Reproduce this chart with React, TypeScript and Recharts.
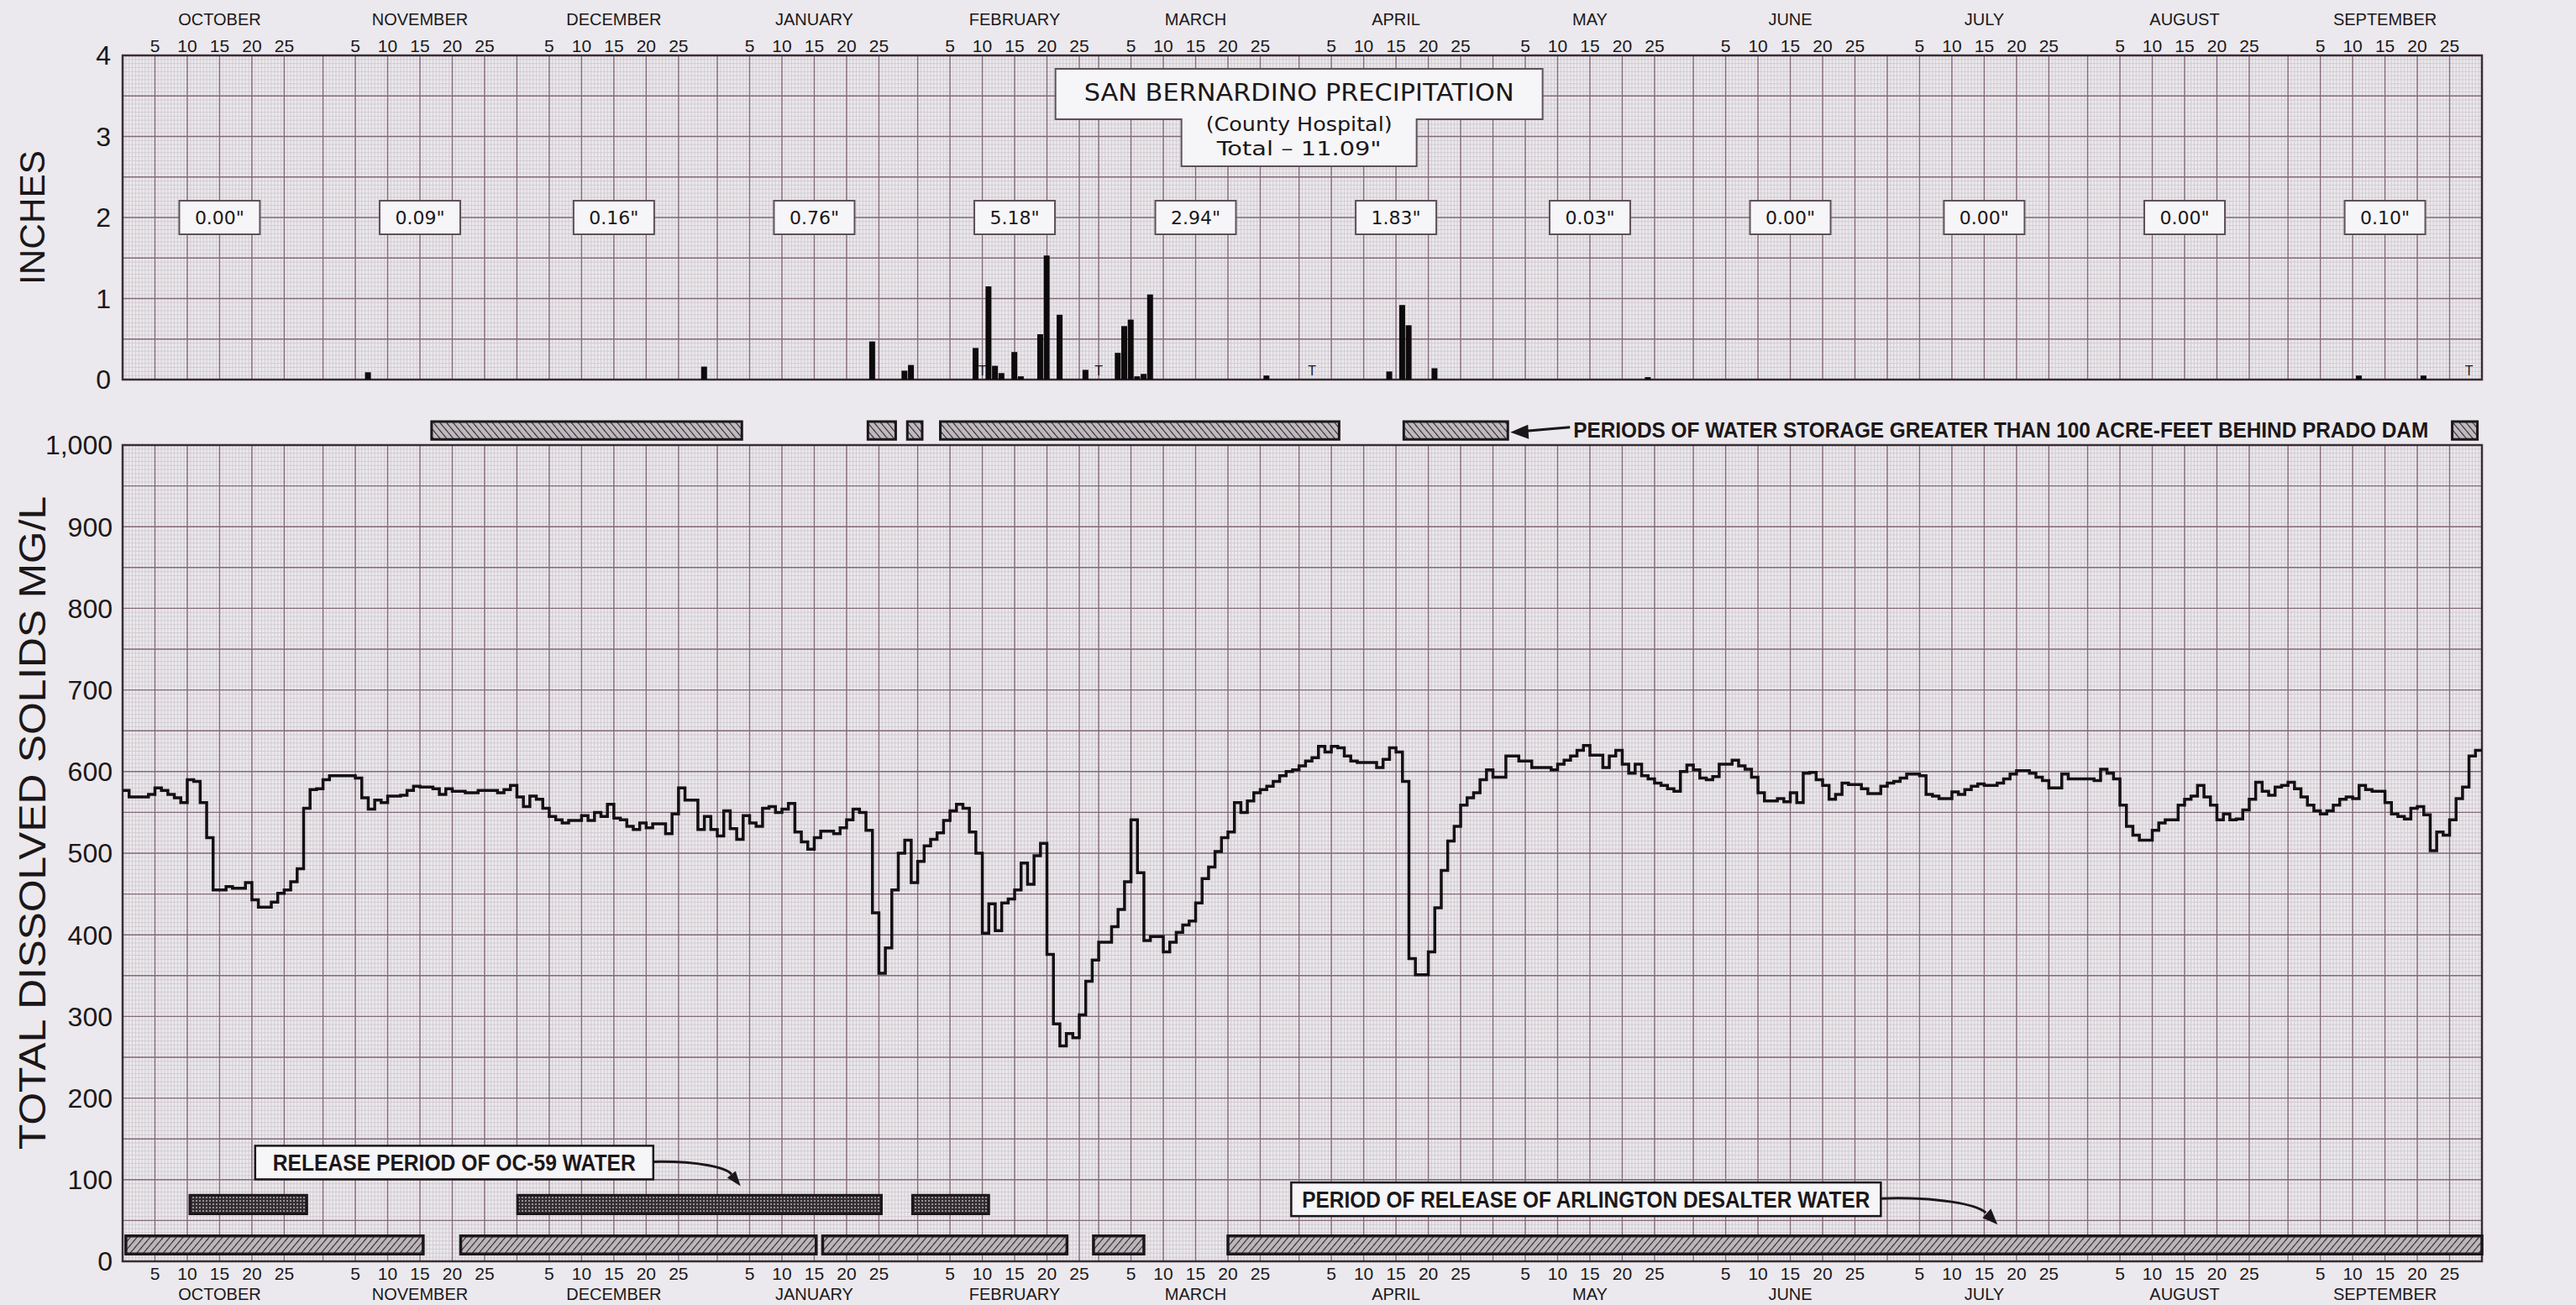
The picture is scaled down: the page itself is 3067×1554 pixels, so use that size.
import React from 'react'
import {
  ComposedChart, Bar, Line, XAxis, YAxis, CartesianGrid,
  ReferenceArea, ReferenceDot,
} from 'recharts'

// water year, day index 0 = October 1
const MONTHS = ['OCTOBER', 'NOVEMBER', 'DECEMBER', 'JANUARY', 'FEBRUARY', 'MARCH', 'APRIL', 'MAY', 'JUNE', 'JULY', 'AUGUST', 'SEPTEMBER']
const MONTH_DAYS = [31, 30, 31, 31, 28, 31, 30, 31, 30, 31, 31, 30]
const DAY_MARKS = [5, 10, 15, 20, 25]
const MONTH_TOTALS = ['0.00"', '0.09"', '0.16"', '0.76"', '5.18"', '2.94"', '1.83"', '0.03"', '0.00"', '0.00"', '0.00"', '0.10"']
const INCH_TICKS = [0, 1, 2, 3, 4]
const TDS_TICKS = [0, 100, 200, 300, 400, 500, 600, 700, 800, 900, 1000]

// San Bernardino daily precipitation (inches)
const RAIN_DAYS = [38, 90, 116, 121, 122, 132, 134, 135, 136, 138, 139, 142, 143, 145, 149, 154, 155, 156, 157, 158, 159, 177, 196, 198, 199, 203, 236, 346, 356]
const RAIN_INCHES = [0.09, 0.16, 0.47, 0.11, 0.18, 0.39, 1.15, 0.17, 0.08, 0.34, 0.04, 0.56, 1.53, 0.80, 0.12, 0.33, 0.66, 0.74, 0.04, 0.07, 1.05, 0.05, 0.10, 0.92, 0.67, 0.14, 0.03, 0.05, 0.05]
const TRACE_DAYS = [133, 151, 184, 363]

// total dissolved solids, mg/L, one value per day
const TDS_OCT = [577, 569, 569, 569, 572, 580, 577, 572, 568, 562, 590, 588, 562, 519, 455, 455, 459, 457, 457, 464, 443, 434, 434, 440, 451, 455, 465, 481, 555, 578, 579]
const TDS_NOV = [590, 595, 595, 595, 595, 592, 568, 554, 565, 562, 570, 570, 571, 577, 582, 581, 581, 579, 572, 579, 576, 576, 574, 574, 577, 577, 577, 574, 578, 583]
const TDS_DEC = [569, 557, 570, 566, 555, 545, 541, 537, 540, 540, 546, 540, 550, 545, 560, 543, 541, 533, 529, 537, 531, 536, 536, 524, 548, 580, 565, 565, 529, 545, 529]
const TDS_JAN = [521, 552, 530, 517, 546, 537, 533, 555, 557, 550, 554, 561, 526, 514, 505, 519, 527, 527, 524, 531, 541, 554, 550, 528, 427, 353, 384, 455, 500, 516, 464]
const TDS_FEB = [490, 509, 517, 525, 540, 552, 560, 555, 526, 500, 402, 438, 405, 439, 444, 455, 488, 462, 497, 512, 376, 291, 264, 279, 274, 302, 343, 369]
const TDS_MAR = [391, 391, 410, 431, 465, 541, 476, 393, 398, 398, 379, 391, 403, 412, 417, 439, 469, 483, 502, 519, 526, 562, 550, 564, 574, 578, 582, 588, 595, 600, 602]
const TDS_APR = [607, 613, 617, 631, 624, 631, 629, 619, 613, 611, 611, 611, 605, 615, 629, 624, 588, 371, 351, 351, 379, 433, 479, 515, 533, 559, 568, 574, 590, 602]
const TDS_MAY = [593, 593, 619, 619, 613, 613, 605, 605, 605, 602, 609, 614, 619, 626, 632, 620, 620, 605, 619, 626, 609, 598, 609, 595, 591, 586, 583, 579, 576, 600, 608]
const TDS_JUN = [602, 592, 590, 594, 609, 609, 614, 607, 603, 593, 574, 564, 564, 567, 563, 574, 562, 598, 599, 590, 583, 566, 572, 586, 584, 584, 579, 573, 573, 582]
const TDS_JUL = [586, 588, 592, 597, 597, 595, 572, 570, 567, 567, 575, 572, 578, 582, 585, 583, 583, 586, 591, 597, 601, 601, 598, 593, 589, 580, 580, 597, 591, 591, 591]
const TDS_AUG = [591, 589, 603, 598, 591, 559, 533, 522, 516, 516, 528, 537, 541, 541, 559, 566, 570, 583, 569, 559, 541, 548, 541, 542, 553, 566, 587, 576, 571, 581, 583]
const TDS_SEP = [587, 579, 569, 559, 552, 548, 552, 559, 566, 569, 567, 583, 578, 576, 576, 562, 548, 545, 542, 555, 557, 547, 503, 526, 522, 541, 567, 581, 619, 626]

// periods (day index start / end)
const STORAGE_START = [47.8, 115.3, 121.4, 126.5, 198.2, 360.4]
const STORAGE_END = [95.8, 119.6, 123.7, 188.2, 214.3, 364.3]
const OC59_START = [10.4, 61.1, 122.2]
const OC59_END = [28.5, 117.4, 134.0]
const DESALTER_START = [0.5, 52.3, 108.3, 150.2, 171.0]
const DESALTER_END = [46.5, 107.3, 146.1, 158.0, 365]

const PAPER = '#ebe9ed'
const GRID_FINE = '#d3ccd1'
const GRID_MAJOR = '#84697a'
const INK = '#1b1719'
const BOX_FILL = '#f6f5f7'
const FONT = "'Liberation Sans', Arial, sans-serif"
const NARROW = "'Liberation Sans Narrow', 'Liberation Sans', Arial, sans-serif"
const CAD = "'DejaVu Sans', 'Liberation Sans', sans-serif"

const W = 3067
const LEFT_W = 146
const RIGHT_W = 112

const monthStarts = MONTH_DAYS.map((_, i) => MONTH_DAYS.slice(0, i).reduce((a, b) => a + b, 0))
const dayTicks = monthStarts.flatMap(s => DAY_MARKS.map(k => s + k))
const majorX = [...monthStarts, 365, ...dayTicks].sort((a, b) => a - b)
const fineX = Array.from({ length: 731 }, (_, i) => i / 2)
const majorInch = Array.from({ length: 9 }, (_, i) => i * 0.5)
const fineInch = Array.from({ length: 81 }, (_, i) => i * 0.05)
const majorTds = Array.from({ length: 21 }, (_, i) => i * 50)
const fineTds = Array.from({ length: 201 }, (_, i) => i * 5)

const tdsAll = [...TDS_OCT, ...TDS_NOV, ...TDS_DEC, ...TDS_JAN, ...TDS_FEB, ...TDS_MAR, ...TDS_APR, ...TDS_MAY, ...TDS_JUN, ...TDS_JUL, ...TDS_AUG, ...TDS_SEP]
const tdsData = [...tdsAll.map((v, i) => ({ day: i, tds: v })), { day: 365, tds: tdsAll[tdsAll.length - 1] }]
const rainData = tdsAll.map((_, d) => {
  const k = RAIN_DAYS.indexOf(d)
  return { day: d, rain: k >= 0 ? RAIN_INCHES[k] : 0 }
})

function DayTick({ x, y, payload, side }: any) {
  const v = payload.value as number
  const m = monthStarts.findIndex((s, i) => v > s && v <= s + MONTH_DAYS[i])
  const dom = v - monthStarts[m]
  const top = side === 'top'
  return (
    <g>
      <text x={x} y={top ? y - 4 : y + 22} textAnchor="middle" fontSize={21} fontFamily={NARROW} fill={INK}>{dom}</text>
      {dom === 15 && (
        <text x={x} y={top ? y - 36 : y + 46} textAnchor="middle" fontSize={20} fontFamily={NARROW} fill={INK}>{MONTHS[m]}</text>
      )}
    </g>
  )
}

const sideLabel = (text: string, len: number, size: number, dy: number) => (props: any) => {
  const vb = props.viewBox
  const cx = vb.x + 38
  const cy = vb.y + vb.height / 2 + dy
  return (
    <text x={cx} y={cy} transform={`rotate(-90, ${cx}, ${cy})`} textAnchor="middle" dominantBaseline="central"
      fontSize={size} fontFamily={FONT} fill={INK} textLength={len} lengthAdjust="spacingAndGlyphs">{text}</text>
  )
}

function TotalBox({ cx, cy, text }: any) {
  return (
    <g>
      <rect x={cx - 48} y={cy - 20} width={96} height={40} fill={BOX_FILL} stroke="#5d5058" strokeWidth={2} />
      <text x={cx} y={cy + 8} textAnchor="middle" fontSize={22} fontFamily={CAD} fill={INK}>{text}</text>
    </g>
  )
}

function TitleBox({ cx, cy }: any) {
  const d = `M${cx - 290},${cy + 16} H${cx + 290} V${cy + 76} H${cx + 140} V${cy + 132} H${cx - 140} V${cy + 76} H${cx - 290} Z`
  return (
    <g>
      <path d={d} fill={BOX_FILL} stroke="#5d5058" strokeWidth={2} />
      <text x={cx} y={cy + 54} textAnchor="middle" fontSize={28} fontFamily={CAD} fill={INK} textLength={512} lengthAdjust="spacingAndGlyphs">SAN BERNARDINO PRECIPITATION</text>
      <text x={cx} y={cy + 90} textAnchor="middle" fontSize={23} fontFamily={CAD} fill={INK} textLength={222} lengthAdjust="spacingAndGlyphs">(County Hospital)</text>
      <text x={cx} y={cy + 119} textAnchor="middle" fontSize={23} fontFamily={CAD} fill={INK} textLength={196} lengthAdjust="spacingAndGlyphs">Total – 11.09"</text>
    </g>
  )
}

function TraceMark({ cx, cy }: any) {
  return <text x={cx} y={cy + 5} textAnchor="middle" fontSize={16} fontFamily={FONT} fill={INK}>T</text>
}

function StorageNote({ cx, cy }: any) {
  return (
    <g>
      <line x1={cx + 74} y1={cy - 4} x2={cx + 16} y2={cy + 1} stroke={INK} strokeWidth={3} />
      <polygon points={`${cx + 3},${cy + 2} ${cx + 24},${cy - 7} ${cx + 25},${cy + 10}`} fill={INK} />
      <text x={cx + 78} y={cy + 8} fontSize={25} fontWeight="bold" fontFamily={NARROW} fill={INK} textLength={1018} lengthAdjust="spacingAndGlyphs">
        PERIODS OF WATER STORAGE GREATER THAN 100 ACRE-FEET BEHIND PRADO DAM
      </text>
    </g>
  )
}

function NoteBox({ cx, cy, text, half, len, arrow, head }: any) {
  const [sx, c1x, c1y, c2x, c2y, tx, ty] = arrow
  return (
    <g>
      <rect x={cx - half} y={cy - 20} width={half * 2} height={40} fill={BOX_FILL} stroke={INK} strokeWidth={2.5} />
      <text x={cx} y={cy + 10} textAnchor="middle" fontSize={27} fontWeight="bold" fontFamily={NARROW} fill={INK} textLength={len} lengthAdjust="spacingAndGlyphs">{text}</text>
      <path d={`M${cx + sx},${cy - 1} C${cx + c1x},${cy + c1y} ${cx + c2x},${cy + c2y} ${cx + tx},${cy + ty}`} fill="none" stroke={INK} strokeWidth={3} />
      <polygon points={head.map((p: number[]) => `${cx + p[0]},${cy + p[1]}`).join(' ')} fill={INK} />
    </g>
  )
}

function Patterns() {
  return (
    <defs>
      <pattern id="hatchUp" patternUnits="userSpaceOnUse" width="6" height="6" patternTransform="rotate(40)">
        <rect width="6" height="6" fill="#bcb5ba" />
        <line x1="0" y1="0" x2="0" y2="6" stroke="#2b2428" strokeWidth="2.2" />
      </pattern>
      <pattern id="hatchDown" patternUnits="userSpaceOnUse" width="6" height="6" patternTransform="rotate(-40)">
        <rect width="6" height="6" fill="#c0b9be" />
        <line x1="0" y1="0" x2="0" y2="6" stroke="#2b2428" strokeWidth="2.2" />
      </pattern>
      <pattern id="dotsDark" patternUnits="userSpaceOnUse" width="4" height="4">
        <rect width="4" height="4" fill="#332e31" />
        <rect x="1" y="1" width="2" height="2" fill="#968f94" />
      </pattern>
    </defs>
  )
}

const yTick = { fontSize: 32, fill: INK, fontFamily: FONT }

export default function App() {
  return (
    <div style={{ position: 'absolute', left: 0, top: 0, width: W, height: 1554, background: PAPER, overflow: 'hidden' }}>
      {/* precipitation panel */}
      <div style={{ position: 'absolute', left: 0, top: 0 }}>
        <ComposedChart width={W} height={500} data={rainData} margin={{ top: 0, right: 0, bottom: 48, left: 0 }} barGap={0} barCategoryGap={0}>
          <CartesianGrid verticalValues={fineX} horizontalValues={fineInch} stroke={GRID_FINE} strokeWidth={1} />
          <CartesianGrid verticalValues={majorX} horizontalValues={majorInch} stroke={GRID_MAJOR} strokeWidth={1.4} />
          <XAxis dataKey="day" type="number" domain={[0, 365]} allowDataOverflow orientation="top" height={66}
            ticks={dayTicks} interval={0} axisLine={false} tickLine={false} tickSize={0} tickMargin={0}
            tick={<DayTick side="top" />} />
          <YAxis domain={[0, 4]} ticks={INCH_TICKS} interval={0} width={LEFT_W} allowDataOverflow axisLine={false}
            tickLine={false} tickSize={0} tickMargin={14} tick={yTick} label={sideLabel('INCHES', 160, 42, 0)} />
          <YAxis yAxisId="right" orientation="right" domain={[0, 4]} ticks={INCH_TICKS} interval={0} width={RIGHT_W}
            axisLine={false} tickLine={false} tickSize={0} tickMargin={12} tick={{ ...yTick, textAnchor: 'start' }} />
          <ReferenceArea x1={0} x2={365} y1={0} y2={4} fill="none" fillOpacity={0} stroke="#3a2d35" strokeWidth={2.5} />
          <Bar dataKey="rain" fill="#0c0a0b" barSize={7} isAnimationActive={false} />
          {TRACE_DAYS.map(d => (
            <ReferenceDot key={d} x={d} y={0.1} r={0} ifOverflow="visible" shape={<TraceMark />} />
          ))}
          {MONTH_TOTALS.map((t, i) => (
            <ReferenceDot key={i} x={monthStarts[i] + 15} y={2} r={0} ifOverflow="visible" shape={<TotalBox text={t} />} />
          ))}
          <ReferenceDot x={182} y={4} r={0} ifOverflow="visible" shape={<TitleBox />} />
        </ComposedChart>
      </div>

      {/* TDS panel */}
      <div style={{ position: 'absolute', left: 0, top: 500 }}>
        <ComposedChart width={W} height={1054} data={tdsData} margin={{ top: 30, right: 0, bottom: 0, left: 0 }}>
          <Patterns />
          <CartesianGrid verticalValues={fineX} horizontalValues={fineTds} stroke={GRID_FINE} strokeWidth={1} />
          <CartesianGrid verticalValues={majorX} horizontalValues={majorTds} stroke={GRID_MAJOR} strokeWidth={1.4} />
          <XAxis dataKey="day" type="number" domain={[0, 365]} allowDataOverflow orientation="bottom" height={52}
            ticks={dayTicks} interval={0} axisLine={false} tickLine={false} tickSize={0} tickMargin={0}
            tick={<DayTick side="bottom" />} />
          <YAxis domain={[0, 1000]} ticks={TDS_TICKS} interval={0} width={LEFT_W} allowDataOverflow axisLine={false}
            tickLine={false} tickSize={0} tickMargin={12} tick={yTick}
            tickFormatter={(v: number) => v.toLocaleString('en-US')}
            label={sideLabel('TOTAL DISSOLVED SOLIDS MG/L', 778, 44, -36)} />
          <YAxis yAxisId="right" orientation="right" domain={[0, 1000]} ticks={TDS_TICKS} interval={0} width={RIGHT_W}
            axisLine={false} tickLine={false} tickSize={0} tickMargin={12} tick={{ ...yTick, textAnchor: 'start' }}
            tickFormatter={(v: number) => v.toLocaleString('en-US')} />
          <ReferenceArea x1={0} x2={365} y1={0} y2={1000} fill="none" fillOpacity={0} stroke="#3a2d35" strokeWidth={2.5} />
          {OC59_START.map((s, i) => (
            <ReferenceArea key={'oc' + i} x1={s} x2={OC59_END[i]} y1={58} y2={81} fill="url(#dotsDark)" fillOpacity={1} stroke={INK} strokeWidth={3} />
          ))}
          {DESALTER_START.map((s, i) => (
            <ReferenceArea key={'ds' + i} x1={s} x2={DESALTER_END[i]} y1={9} y2={31} fill="url(#hatchUp)" fillOpacity={1} stroke={INK} strokeWidth={3.5} />
          ))}
          <Line type="stepAfter" dataKey="tds" stroke="#141012" strokeWidth={3.5} dot={false} activeDot={false} isAnimationActive={false} />
          <ReferenceDot x={51.3} y={121} r={0} ifOverflow="visible" shape={
            <NoteBox text="RELEASE PERIOD OF OC-59 WATER" half={237} len={432}
              arrow={[237, 290, -2, 325, 6, 330, 14]} head={[[341, 28], [325, 18], [335, 10]]} />
          } />
          <ReferenceDot x={226.4} y={76} r={0} ifOverflow="visible" shape={
            <NoteBox text="PERIOD OF RELEASE OF ARLINGTON DESALTER WATER" half={351} len={676}
              arrow={[351, 420, -3, 465, 6, 476, 16]} head={[[490, 30], [472, 22], [482, 11]]} />
          } />
        </ComposedChart>
      </div>

      {/* storage strip between panels */}
      <div style={{ position: 'absolute', left: 0, top: 496 }}>
        <ComposedChart width={W} height={34} margin={{ top: 0, right: RIGHT_W, bottom: 0, left: LEFT_W }}>
          <Patterns />
          <XAxis type="number" dataKey="day" domain={[0, 365]} allowDataOverflow hide />
          <YAxis domain={[0, 1]} allowDataOverflow hide />
          {STORAGE_START.map((s, i) => (
            <ReferenceArea key={i} x1={s} x2={STORAGE_END[i]} y1={0.2} y2={0.82} fill="url(#hatchDown)" fillOpacity={1} stroke={INK} strokeWidth={3} />
          ))}
          <ReferenceDot x={214.3} y={0.51} r={0} ifOverflow="visible" shape={<StorageNote />} />
        </ComposedChart>
      </div>
    </div>
  )
}
